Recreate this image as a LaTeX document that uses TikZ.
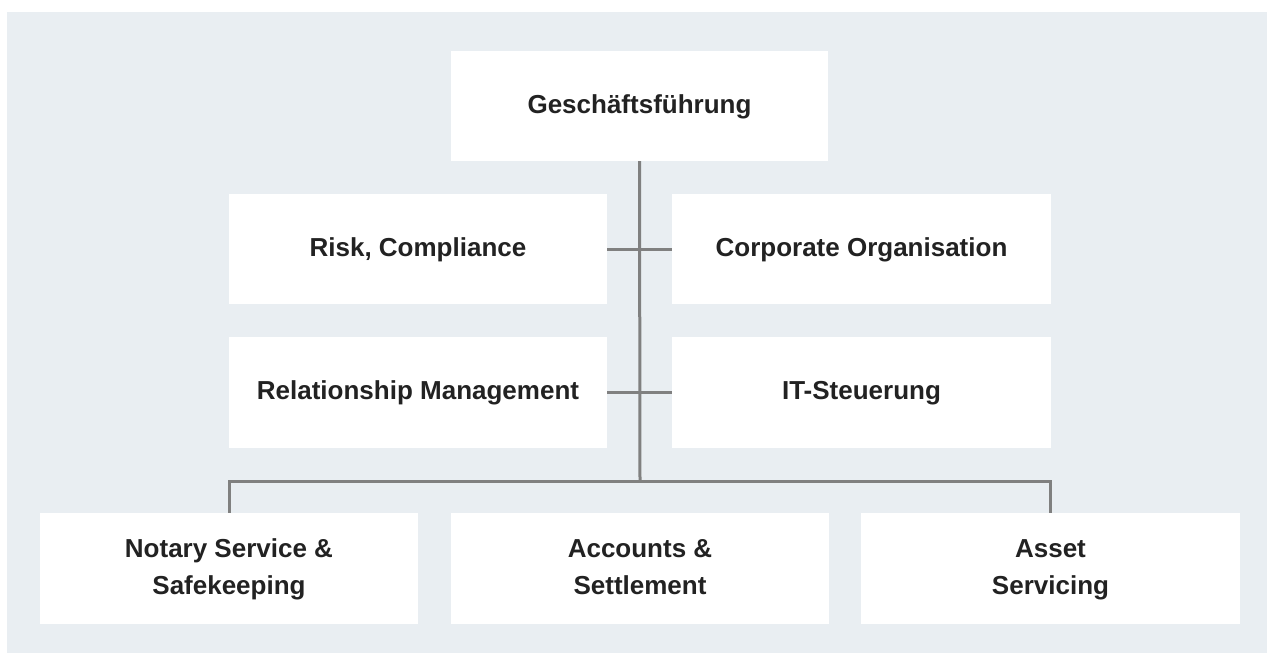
\documentclass[tikz,border=0pt]{standalone}
\usepackage{fontspec}
\setmainfont{Liberation Sans}
\definecolor{bgc}{HTML}{E9EEF2}
\definecolor{linec}{HTML}{808080}
\definecolor{txtc}{HTML}{222222}
\newcommand{\orgln}[1]{\strut #1}
\tikzset{
  orgbox/.style={fill=white, draw=none, minimum width=378pt, minimum height=110pt,
    inner sep=0pt, align=center, text=txtc, font=\fontsize{26}{37}\selectfont\bfseries},
  conn/.style={draw=linec, line width=3pt}
}
\begin{document}
\begin{tikzpicture}[x=1pt,y=-1pt]
\useasboundingbox (0,0) rectangle (1267,653);
\fill[bgc] (7,12) rectangle (1267,653);
\node[orgbox, minimum width=377pt] (gf) at (639.5,106) {\orgln{Geschäftsführung}};
\node[orgbox] (risk) at (418,249) {\orgln{Risk, Compliance}};
\node[orgbox, minimum width=379pt] (corp) at (861.5,249) {\orgln{Corporate Organisation}};
\node[orgbox, minimum height=111pt] (rel) at (418,392.5) {\orgln{Relationship Management}};
\node[orgbox, minimum width=379pt, minimum height=111pt] (it) at (861.5,392.5) {\orgln{IT-Steuerung}};
\node[orgbox, minimum height=111pt] (notary) at (229,568.5) {\orgln{Notary Service \&}\\\orgln{Safekeeping}};
\node[orgbox, minimum height=111pt] (acc) at (640,568.5) {\orgln{Accounts \&}\\\orgln{Settlement}};
\node[orgbox, minimum width=379pt, minimum height=111pt] (asset) at (1050.5,568.5) {\orgln{Asset}\\\orgln{Servicing}};
\coordinate (busc) at (640,481);
\coordinate (busl) at (229,481);
\coordinate (busr) at (1050.5,481);
\draw[conn] (gf.south) -- (busc);
\draw[conn] (risk.east) -- (corp.west);
\draw[conn] (rel.east) -- (it.west);
\draw[conn] (notary.north) -- (busl) -- (busr) -- (asset.north);
\end{tikzpicture}
\end{document}
